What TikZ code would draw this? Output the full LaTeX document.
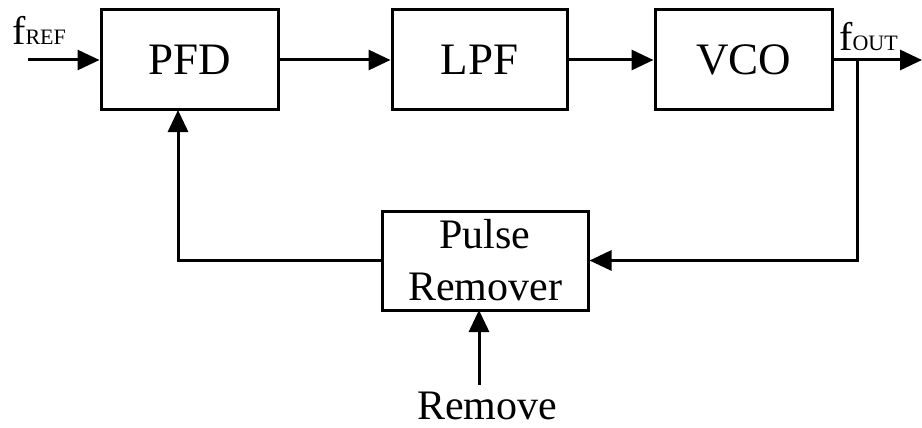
\documentclass[tikz,border=0pt]{standalone}
\usepackage{fontspec}
\setmainfont{Liberation Serif}
\usetikzlibrary{arrows.meta}

\tikzset{
    blk/.style={draw, line width=3pt, inner sep=0pt, align=center},
    sig/.style={line width=3pt, -{Triangle[length=22pt, width=20pt]}},
    wire/.style={line width=3pt}
}
\newcommand{\bigtxt}{\fontsize{45}{50}\selectfont}
\newcommand{\midtxt}{\fontsize{42}{52}\selectfont}
\newcommand{\freq}[1]{{\fontsize{40}{40}\selectfont f}{\fontsize{22}{22}\selectfont #1}}

\begin{document}
\begin{tikzpicture}[x=1pt, y=-1pt]
    \useasboundingbox (0,0) rectangle (922,428);
    \node[blk, font=\bigtxt, minimum width=177pt, minimum height=100pt] (pfd) at (189.5,60) {PFD};
    \node[blk, font=\bigtxt, minimum width=175pt, minimum height=100pt] (lpf) at (479.5,60) {LPF};
    \node[blk, font=\bigtxt, minimum width=177pt, minimum height=100pt] (vco) at (743.5,60) {VCO};
    \node[blk, font=\midtxt, minimum width=206pt, minimum height=99pt] (pr) at (485,260.5) {Pulse\\Remover};
    \node[anchor=base, inner sep=0pt, font=\midtxt] (rm) at (487,419) {Remove};
    \node[anchor=base west, inner sep=0pt] (fref) at (12,45) {\freq{REF}};
    \node[anchor=base west, inner sep=0pt] (fout) at (839,51) {\freq{OUT}};

    \coordinate (in) at (28,60);
    \coordinate (out) at (922,60);
    \coordinate (tap) at (857,60);
    \coordinate (fb) at (178,110);
    \coordinate (rmtop) at (479,385);
    \coordinate (rmin) at (479,310);

    \draw[sig] (in) -- (pfd.west);
    \draw[sig] (pfd.east) -- (lpf.west);
    \draw[sig] (lpf.east) -- (vco.west);
    \draw[sig] (vco.east) -- (out);
    \draw[sig] (tap) |- (pr.east);
    \draw[wire] (pr.west) -| (178,200);
    \draw[sig] (178,200) -- (fb);
    \draw[sig] (rmtop) -- (rmin);
\end{tikzpicture}
\end{document}
